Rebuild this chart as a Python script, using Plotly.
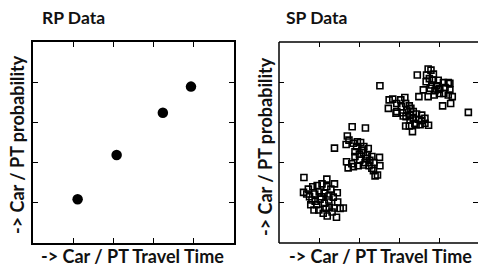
import plotly.graph_objects as go

# RP data (left panel): travel time ratio vs probability
rp_time = [1.11, 2.08, 3.23, 3.93]
rp_prob = [1.09, 2.19, 3.24, 3.89]

# SP data (right panel), four clusters plus outliers
sp_time = [
    0.62, 1.19, 0.61, 0.73, 0.84, 0.95, 1.07, 1.19, 1.29, 1.38, 0.76, 0.89, 1.00, 1.12, 1.24, 1.45,
    0.79, 0.90, 1.02, 1.13, 1.24, 1.35, 1.46, 0.87, 0.99, 1.10, 1.20, 1.32, 1.43, 1.52, 1.60, 1.37,
    1.25, 1.05, 1.17, 0.94, 0.82, 0.69,
    1.82, 2.15, 1.38, 1.70, 1.74, 1.67, 1.85, 1.93, 2.03, 2.11, 2.22, 1.89, 2.00, 2.10, 2.20, 2.31,
    1.89, 2.01, 2.14, 2.26, 2.36, 1.68, 1.81, 1.72, 1.85, 1.97, 2.10, 2.24, 2.50, 2.51, 2.35, 2.45,
    2.39, 2.31, 2.18, 2.06, 1.95,
    2.51, 2.72, 2.74, 2.83, 2.93, 3.03, 3.13, 3.15, 3.24, 3.04, 2.93, 3.08, 3.18, 3.28, 3.34, 3.42,
    3.26, 3.16, 3.34, 3.47, 3.55, 3.63, 3.72, 3.51, 3.38, 3.26, 3.15, 3.32, 3.41, 3.24, 2.91, 3.55,
    3.63, 3.09,
    3.44, 3.71, 3.78, 3.84, 3.67, 3.74, 3.84, 3.96, 4.09, 4.21, 3.59, 3.66, 3.80, 3.92, 4.00, 4.13,
    4.25, 3.88, 3.99, 4.10, 4.21, 4.31, 3.71, 3.86, 4.07, 4.27, 3.48, 4.25, 3.76, 3.96,
    4.71,
]
sp_prob = [
    1.63, 1.59, 1.26, 1.34, 1.40, 1.43, 1.47, 1.40, 1.34, 1.47, 1.15, 1.22, 1.27, 1.24, 1.17, 1.25,
    0.95, 1.04, 1.09, 0.99, 1.07, 1.14, 1.02, 0.82, 0.82, 0.74, 0.67, 0.77, 0.64, 0.86, 0.87, 0.87,
    0.89, 1.15, 0.86, 0.95, 1.07, 1.22,
    2.89, 2.86, 2.36, 2.66, 2.56, 2.45, 2.48, 2.40, 2.50, 2.40, 2.35, 2.27, 2.21, 2.25, 2.19, 2.15,
    2.15, 2.06, 2.00, 2.06, 2.00, 2.02, 1.97, 1.87, 1.90, 1.92, 1.94, 1.92, 2.13, 1.92, 1.80, 1.69,
    1.67, 1.86, 2.11, 2.31, 2.52,
    3.91, 3.35, 3.56, 3.58, 3.47, 3.56, 3.62, 3.47, 3.41, 3.39, 3.27, 3.24, 3.31, 3.35, 3.27, 3.21,
    3.18, 3.14, 3.10, 3.08, 3.04, 2.98, 2.93, 2.94, 2.98, 3.06, 2.91, 2.77, 2.94, 2.91, 3.23, 3.18,
    3.10, 3.16,
    4.18, 4.33, 4.30, 4.20, 4.18, 4.09, 4.05, 4.05, 3.99, 3.99, 3.81, 4.01, 3.93, 3.91, 3.85, 3.87,
    3.81, 3.79, 3.72, 3.72, 3.68, 3.64, 3.64, 3.68, 3.41, 3.47, 3.64, 3.97, 3.85, 3.82,
    3.25,
]

tick_vals = [1, 2, 3, 4]
titles = ["RP Data", "SP Data"]
x_title = "-> Car / PT Travel Time"
y_title = "-> Car / PT probability"

W, H = 478, 271
FONT = "Lato, 'Noto Sans', sans-serif"
INK = "#111111"

def px(v):
    return v / W

def py(v):
    return 1 - v / H

fig = go.Figure()
fig.add_trace(go.Scatter(x=rp_time, y=rp_prob, mode="markers", xaxis="x", yaxis="y",
                         marker=dict(symbol="circle", size=10.5, color="black"), showlegend=False))
fig.add_trace(go.Scatter(x=sp_time, y=sp_prob, mode="markers", xaxis="x2", yaxis="y2",
                         marker=dict(symbol="square-open", size=6, color="black", line=dict(width=1.6)),
                         showlegend=False))

ax_common = dict(ticks="inside", ticklen=5, tickwidth=1, tickcolor="black", tickvals=tick_vals,
                 showticklabels=False, showgrid=False, zeroline=False, mirror="ticks",
                 linecolor="black", linewidth=1.5)
ydom = [py(243), py(42)]
fig.update_layout(
    width=W, height=H, margin=dict(l=0, r=0, t=0, b=0),
    paper_bgcolor="white", plot_bgcolor="white",
    xaxis=dict(domain=[px(33), px(234)], range=[0, 5], showline=True, anchor="y", **ax_common),
    yaxis=dict(domain=ydom, range=[0, 5], showline=True, anchor="x", **ax_common),
    xaxis2=dict(domain=[px(279), 1.0], range=[0, 4.95], showline=False, anchor="y2", **ax_common),
    yaxis2=dict(domain=ydom, range=[0, 5], showline=False, anchor="x2", **ax_common),
)

# frame of the right panel (its right side is cut off by the picture edge)
for x0, y0, x1, y1 in [(279, 42, 279, 243), (279, 42, 478, 42), (279, 243, 478, 243)]:
    fig.add_shape(type="line", xref="paper", yref="paper", x0=px(x0), y0=py(y0), x1=px(x1), y1=py(y1),
                  line=dict(color="black", width=1.5))

annos = [
    dict(text=titles[0], x=px(40), y=py(18), xanchor="left", size=17.5),
    dict(text=titles[1], x=px(284), y=py(18), xanchor="left", size=17.5),
    dict(text=x_title, x=px(132), y=py(256), xanchor="center", size=18),
    dict(text=x_title, x=px(380), y=py(256), xanchor="center", size=18),
]
for a in annos:
    fig.add_annotation(text="<b>%s</b>" % a["text"], x=a["x"], y=a["y"], xref="paper", yref="paper",
                       xanchor=a["xanchor"], yanchor="middle", showarrow=False,
                       font=dict(family=FONT, size=a["size"], color=INK))
for xc, yc in [(17, 145), (265, 147)]:
    fig.add_annotation(text="<b>%s</b>" % y_title, x=px(xc), y=py(yc), xref="paper", yref="paper",
                       xanchor="center", yanchor="middle", textangle=-90, showarrow=False,
                       font=dict(family=FONT, size=18, color=INK))

fig.write_html("out.html", config={"displayModeBar": False},
               post_script="document.body.style.margin='0';")
